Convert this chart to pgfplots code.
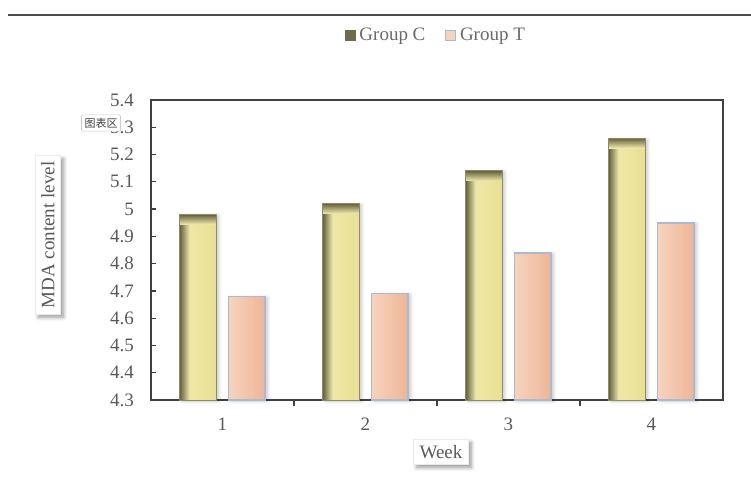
\documentclass[border=0pt]{standalone}
\usepackage{pgfplots}
\pgfplotsset{compat=1.18}
\usepackage{pgfplotstable}
\usepackage{fontspec}
\setmainfont{Liberation Serif}
\newfontfamily\cjk{Noto Sans CJK SC}
\usetikzlibrary{shadows.blur}

\definecolor{txt}{HTML}{595959}
\definecolor{legtxt}{HTML}{6A6A6A}
\definecolor{axisgray}{HTML}{404040}
\definecolor{cpale}{HTML}{F0EAAC}
\definecolor{cdeep}{HTML}{E9DF94}
\definecolor{cshade}{HTML}{65613E}
\definecolor{cedge}{HTML}{8E8B68}
\definecolor{clegend}{HTML}{6E6C4A}
\definecolor{tlight}{HTML}{F7D3BE}
\definecolor{tdeep}{HTML}{EEB596}
\definecolor{tedge}{HTML}{A8BBD2}

% MDA content level by week
\pgfplotstableread{
week C T
1 4.98 4.68
2 5.02 4.69
3 5.14 4.84
4 5.26 4.95
}\mda

% position helper: pixel-like grid, origin top left
\newcommand\px[2]{({(#1)*0.5pt},{(497-(#2))*0.5pt})}

\tikzset{
  cbar inner/.style={path picture={}, draw=none},
  bar halo/.style={draw=none, fill=none,
    blur shadow={shadow xshift=1.2pt, shadow yshift=-0.6pt, shadow opacity=22,
      shadow blur radius=1.6pt, shadow blur steps=6}},
}

\begin{document}
\begin{tikzpicture}
\useasboundingbox (0,0) rectangle (375.5pt,248.5pt);

% rule at the top
\draw[color=black!70, line width=0.8pt] \px{8}{15} -- \px{751}{15};

\begin{axis}[
  at={(75.5pt,48.5pt)}, anchor=south west,
  scale only axis, width=286pt, height=150pt,
  xmin=0.5, xmax=4.5, ymin=4.3, ymax=5.4,
  xtick={1,2,3,4}, minor xtick={1.5,2.5,3.5},
  major x tick style={draw=none},
  ytick={4.3,4.4,4.5,4.6,4.7,4.8,4.9,5.0,5.1,5.2,5.3,5.4},
  xtick pos=bottom, ytick pos=left,
  tick align=inside,
  major tick length=2.5pt, minor tick length=3pt,
  axis line style={axisgray, line width=0.6pt},
  every tick/.style={axisgray, line width=0.6pt},
  tick label style={font=\fontsize{9.5}{11}\selectfont, text=txt},
  /pgf/number format/assume math mode=true,
  yticklabel style={/pgf/number format/fixed, /pgf/number format/precision=1, xshift=-5pt},
  xticklabel style={yshift=-3pt},
  legend style={at={(0.5,1.215)}, anchor=center, draw=none, fill=none,
    font=\fontsize{9.5}{11}\selectfont, text=legtxt,
    legend columns=2, /tikz/every even column/.append style={column sep=8pt},
    legend cell align=left},
  clip=false,
  ybar, bar width=18.3pt,
]
% one plot per bar, so that every bar gets its own shading
\pgfplotsinvokeforeach{1,2,3,4}{
  \addplot[bar shift=-12.25pt, bar halo, forget plot,
    restrict x to domain=#1:#1] table[x=week, y=C] {\mda};
  \addplot[bar shift=12.25pt, bar halo, forget plot,
    restrict x to domain=#1:#1] table[x=week, y=T] {\mda};
  \addplot[bar shift=-12.25pt, draw=cedge, line width=0.4pt, fill=cpale, forget plot,
    restrict x to domain=#1:#1,
    path picture={
      \shade[cbar inner, left color=cpale, right color=cdeep]
        (path picture bounding box.south west) rectangle (path picture bounding box.north east);
      \shade[cbar inner, left color=cshade, right color=cpale]
        (path picture bounding box.south west) rectangle ([xshift=5pt]path picture bounding box.north west);
      \shade[cbar inner, top color=cshade, bottom color=cpale]
        (path picture bounding box.north west) rectangle ([yshift=-5pt]path picture bounding box.north east);
    }] table[x=week, y=C] {\mda};
  \addplot[bar shift=12.25pt, draw=tedge, line width=0.8pt,
    left color=tlight, right color=tdeep, forget plot,
    restrict x to domain=#1:#1] table[x=week, y=T] {\mda};
}

\addlegendimage{legend image code/.code={\fill[clegend] (0pt,-2.4pt) rectangle (4.8pt,2.4pt);}}
\addlegendentry{Group C}
\addlegendimage{legend image code/.code={\fill[tlight, draw=tedge, line width=0.5pt] (0pt,-2.4pt) rectangle (4.8pt,2.4pt);}}
\addlegendentry{Group T}
\end{axis}

% boxed axis titles
\node[rotate=90, fill=white, draw=black!8, inner sep=3pt,
  blur shadow={shadow xshift=1.5pt, shadow yshift=-1.5pt, shadow blur steps=6},
  font=\fontsize{9.5}{11}\selectfont, text=txt] at \px{48}{235} {MDA content level};
\node[fill=white, draw=black!8, inner sep=3pt,
  blur shadow={shadow xshift=1.5pt, shadow yshift=-1.5pt, shadow blur steps=6},
  font=\fontsize{9.5}{11}\selectfont, text=txt] at \px{441}{452} {Week};

% chart-area tag
\node[fill=white, draw=black!20, line width=0.3pt, rounded corners=0.5pt, inner sep=1.5pt,
  font=\cjk\fontsize{5.5}{6}\selectfont, text=black!75] at \px{101}{123} {图表区};
\end{tikzpicture}
\end{document}
